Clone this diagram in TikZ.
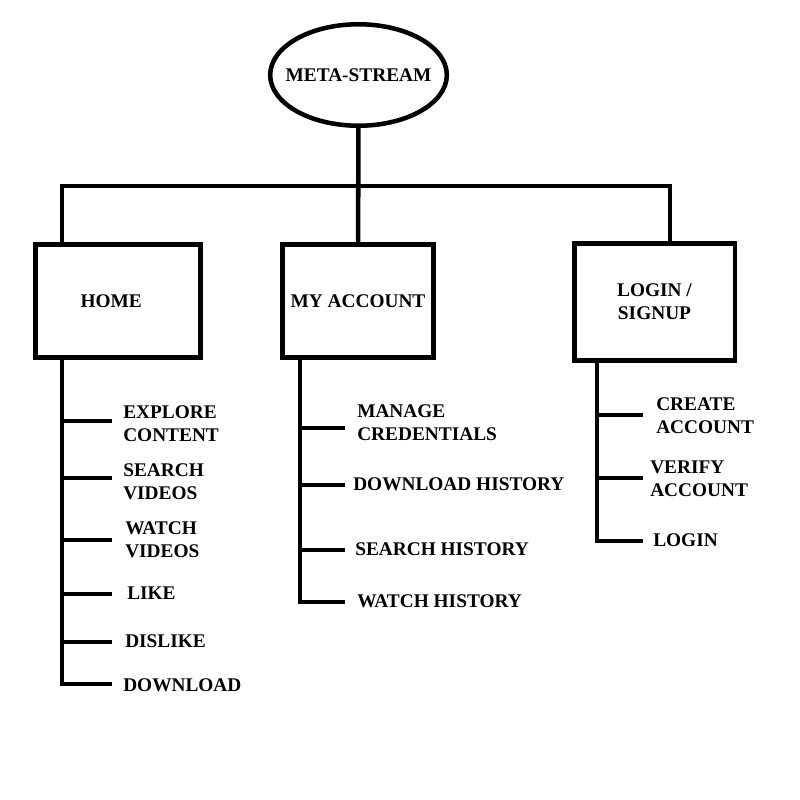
\documentclass[tikz,border=0pt]{standalone}
\usepackage{fontspec}
\setmainfont{Liberation Serif}
\usetikzlibrary{shapes.geometric}
\def\W{3.4pt}

\begin{document}
\begin{tikzpicture}[
	x = 0.75pt, y = -0.75pt,
	line width = \W,
	txt/.style = {font = \fontsize{14.5}{17.25}\selectfont\bfseries},
	caja/.style = {draw, txt, rectangle, align = center, line width = \W},
	item/.style = {txt, anchor = west, inner sep = 0pt, align = left},
]

	% márgenes del dibujo
	\fill[white] (0,0) rectangle (800,800);

	% raíz
	\node[draw, txt, ellipse, inner xsep = -7.8pt, inner ysep = 0pt,
		minimum height = 76.1pt]
		(meta) at (358.5,75) {META-STREAM};

	% cajas
	\node[caja, minimum width = 124.1pt, minimum height = 85.1pt,
		text width = 110pt, align = left]
		(home) at (118,301) {\hspace{27pt}HOME};
	\node[caja, minimum width = 113.6pt, minimum height = 85.1pt]
		(acct) at (358,301) {MY ACCOUNT};
	\node[caja, minimum width = 120.4pt, minimum height = 88.1pt]
		(login) at (654.5,302) {LOGIN /\\SIGNUP};

	% def. de las coordenadas importantes
	\coordinate (hbar) at (62,186);
	\coordinate (lbar) at (670,186);
	\coordinate (htrunk) at (62,684);
	\coordinate (atrunk) at (300,602);
	\coordinate (ltrunk) at (597,541);

	% barra superior
	\draw (meta) -- (acct);
	\draw (home.north -| hbar) -- (hbar) -- (lbar) -- (login.north -| lbar);

	% troncos
	\draw (home.south -| htrunk) -- (htrunk) -- (112,684) coordinate (hb6);
	\draw (acct.south -| atrunk) -- (atrunk) -- (345,602) coordinate (ab4);
	\draw (login.south -| ltrunk) -- (ltrunk) -- (643,541) coordinate (lb3);

	% ramas
	\foreach \n/\y in {1/421, 2/478, 3/540, 4/594, 5/642} {
		\coordinate (hb\n) at (112,\y);
		\draw (hb\n -| htrunk) -- (hb\n);
	}
	\foreach \n/\y in {1/428, 2/485, 3/550} {
		\coordinate (ab\n) at (345,\y);
		\draw (ab\n -| atrunk) -- (ab\n);
	}
	\foreach \n/\y in {1/415, 2/478} {
		\coordinate (lb\n) at (643,\y);
		\draw (lb\n -| ltrunk) -- (lb\n);
	}

	% etiquetas
	\foreach \n/\x/\y/\t in {
		1/121/423.5/{EXPLORE\\CONTENT},
		2/121/481.5/{SEARCH\\VIDEOS},
		3/123/539.5/{WATCH\\VIDEOS},
		4/125/593/{LIKE},
		5/123/641/{DISLIKE},
		6/121/685/{DOWNLOAD}}
		\node[item] (hl\n) at (\x,\y) {\t};

	\foreach \n/\x/\y/\t in {
		1/355/422.5/{MANAGE\\CREDENTIALS},
		2/351/484/{DOWNLOAD HISTORY},
		3/353/549/{SEARCH HISTORY},
		4/355/601/{WATCH HISTORY}}
		\node[item] (al\n) at (\x,\y) {\t};

	\foreach \n/\x/\y/\t in {
		1/654/416/{CREATE\\ACCOUNT},
		2/648/478.5/{VERIFY\\ACCOUNT},
		3/651/540/{LOGIN}}
		\node[item] (ll\n) at (\x,\y) {\t};

\end{tikzpicture}
\end{document}
